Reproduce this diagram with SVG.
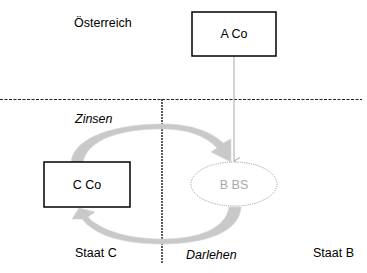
<svg xmlns="http://www.w3.org/2000/svg" width="367" height="273" viewBox="0 0 367 273">
<style>
text{font-family:"Liberation Sans",Arial,sans-serif;font-size:12.5px;fill:#000}
.it{font-style:italic}
.box{fill:#fff;stroke:#000;stroke-width:1.5}
.arc{fill:#c9c9c9;stroke:#d6d6d6;stroke-width:0.6}
</style>
<defs>
<marker id="ah" markerWidth="8" markerHeight="8" refX="4" refY="7" orient="auto" markerUnits="userSpaceOnUse">
<path d="M0.5,1 L4,7 L7.5,1" fill="none" stroke="#a8a8a8" stroke-width="1"/>
</marker>
</defs>
<rect width="367" height="273" fill="#fff"/>
<g id="borders">
<line x1="0" y1="99.5" x2="362" y2="99.5" stroke="#222" stroke-width="1" stroke-dasharray="3,1.5"/>
<line x1="162" y1="99" x2="162" y2="264" stroke="#333" stroke-width="1.6" stroke-dasharray="2,1"/>
</g>
<g id="connectors">
<line x1="234" y1="56" x2="234" y2="161" stroke="#a8a8a8" stroke-width="1" marker-end="url(#ah)"/>
<path class="arc" d="M71,162 C74,136 118,124 162,124 C192,124 212,132 223,143 L231,139 L231,162 L211,152 L217,148 C206,136 188,129 162,129 C124,129 88,138 83,162 Z"/>
<path class="arc" d="M241,207 C240,232 205,244 162,244 C125,244 95,236 82,219 L72,219 L79,208 L95,212 L88,217 C100,230 128,239 162,239 C200,239 226,228 229,207 Z"/>
</g>
<g id="acoNode">
<rect class="box" x="192" y="12" width="84" height="44"/>
<text x="234" y="38" text-anchor="middle">A Co</text>
</g>
<g id="ccoNode">
<rect class="box" x="44" y="162" width="86" height="45"/>
<text x="87" y="189" text-anchor="middle">C Co</text>
</g>
<g id="bbsNode">
<ellipse cx="234" cy="184" rx="43" ry="22" fill="#fff" stroke="#999" stroke-width="1" stroke-dasharray="1,1.2"/>
<text x="234" y="189" text-anchor="middle" style="fill:#aaa">B BS</text>
</g>
<g id="labels">
<text x="74" y="27">Österreich</text>
<text class="it" x="75" y="123">Zinsen</text>
<text x="75" y="257">Staat C</text>
<text class="it" x="186" y="259">Darlehen</text>
<text x="313" y="257">Staat B</text>
</g>
</svg>
